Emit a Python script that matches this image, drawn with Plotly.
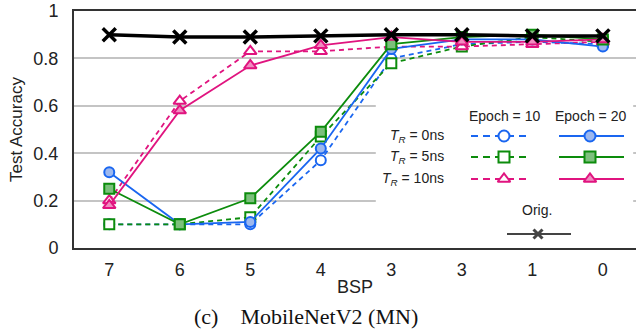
import plotly.graph_objects as go

# ---- data ----
bsp_labels = ["7", "6", "5", "4", "3", "3", "1", "0"]
orig = [0.90, 0.89, 0.89, 0.895, 0.90, 0.90, 0.895, 0.895]
tr0_e10 = [0.10, 0.10, 0.10, 0.37, 0.80, 0.86, 0.87, 0.86]
tr0_e20 = [0.32, 0.10, 0.11, 0.42, 0.84, 0.88, 0.88, 0.85]
tr5_e10 = [0.10, 0.10, 0.13, 0.47, 0.78, 0.85, 0.89, 0.87]
tr5_e20 = [0.25, 0.10, 0.21, 0.49, 0.86, 0.89, 0.90, 0.88]
tr10_e10 = [0.20, 0.62, 0.83, 0.83, 0.85, 0.85, 0.86, 0.87]
tr10_e20 = [0.18, 0.58, 0.77, 0.855, 0.89, 0.87, 0.87, 0.88]

BLUE = "#1a66f0"
GREEN = "#0c8c0c"
PINK = "#e0147f"
LBLUE = "#9db8ee"
LGREEN = "#7cc07c"
LPINK = "#f08cc0"

xs = list(range(len(bsp_labels)))
FONT = "Liberation Sans, Arial, sans-serif"

fig = go.Figure()

series = [
    (tr0_e10, BLUE, "white", "circle", "dash"),
    (tr5_e10, GREEN, "white", "square", "dash"),
    (tr10_e10, PINK, "white", "triangle-up", "dash"),
    (tr0_e20, BLUE, LBLUE, "circle", "solid"),
    (tr5_e20, GREEN, LGREEN, "square", "solid"),
    (tr10_e20, PINK, LPINK, "triangle-up", "solid"),
]
for ys, col, fill, sym, dash in series:
    fig.add_trace(go.Scatter(
        x=xs, y=ys, mode="lines+markers",
        line=dict(color=col, width=1.8, dash="5px,4px" if dash == "dash" else "solid"),
        marker=dict(symbol=sym, size=10 if sym != "triangle-up" else 11,
                    color=fill, line=dict(color=col, width=2)),
        showlegend=False, hoverinfo="skip"))

fig.add_trace(go.Scatter(
    x=xs, y=orig, mode="lines+markers",
    line=dict(color="black", width=3.5),
    marker=dict(symbol="x-thin", size=13, line=dict(color="black", width=3.5)),
    showlegend=False, hoverinfo="skip"))

# ---- custom legend (pixel coordinates on an overlay axis) ----
rows = [(136, BLUE, LBLUE, "circle", "<i>T</i><sub><i>R</i></sub> = 0ns"),
        (157, GREEN, LGREEN, "square", "<i>T</i><sub><i>R</i></sub> = 5ns"),
        (179, PINK, LPINK, "triangle-up", "<i>T</i><sub><i>R</i></sub> = 10ns")]
for yy, col, fill, sym, lab in rows:
    fig.add_trace(go.Scatter(x=[471, 530], y=[yy, yy], mode="lines", xaxis="x2", yaxis="y2",
                             line=dict(color=col, width=1.8, dash="7px,5px"),
                             showlegend=False, hoverinfo="skip"))
    fig.add_trace(go.Scatter(x=[504], y=[yy], mode="markers", xaxis="x2", yaxis="y2",
                             marker=dict(symbol=sym, size=11, color="white",
                                         line=dict(color=col, width=2)),
                             showlegend=False, hoverinfo="skip"))
    fig.add_trace(go.Scatter(x=[559, 624], y=[yy, yy], mode="lines", xaxis="x2", yaxis="y2",
                             line=dict(color=col, width=1.8),
                             showlegend=False, hoverinfo="skip"))
    fig.add_trace(go.Scatter(x=[590], y=[yy], mode="markers", xaxis="x2", yaxis="y2",
                             marker=dict(symbol=sym, size=11, color=fill,
                                         line=dict(color=col, width=2)),
                             showlegend=False, hoverinfo="skip"))
    fig.add_annotation(x=446, y=yy, xref="x2", yref="y2", text=lab, showarrow=False,
                       xanchor="right", yanchor="middle",
                       font=dict(family=FONT, size=14, color="#222"))

fig.add_trace(go.Scatter(x=[507, 571], y=[234, 234], mode="lines", xaxis="x2", yaxis="y2",
                         line=dict(color="#444", width=2),
                         showlegend=False, hoverinfo="skip"))
fig.add_trace(go.Scatter(x=[538], y=[234], mode="markers", xaxis="x2", yaxis="y2",
                         marker=dict(symbol="x-thin", size=9, line=dict(color="#444", width=3)),
                         showlegend=False, hoverinfo="skip"))
for tx, ty, t in [(504, 116, "Epoch = 10"), (590, 116, "Epoch = 20"), (537, 210, "Orig.")]:
    fig.add_annotation(x=tx, y=ty, xref="x2", yref="y2", text=t, showarrow=False,
                       xanchor="center", yanchor="middle",
                       font=dict(family=FONT, size=14, color="#222"))

# legend background (hides gridlines)
fig.add_shape(type="rect", xref="x", yref="y", x0=3.78, x1=7.43, y0=0.02, y1=0.63,
              fillcolor="white", line=dict(width=0), layer="between")

# caption
fig.add_annotation(x=0.412, y=-0.29, xref="paper", yref="paper",
                   text="(c)    MobileNetV2 (MN)", showarrow=False,
                   xanchor="center", yanchor="middle",
                   font=dict(family="Liberation Serif, Times New Roman, serif", size=22, color="#111"))

fig.update_layout(
    width=636, height=333,
    margin=dict(l=74, r=0, t=11, b=85),
    paper_bgcolor="white", plot_bgcolor="white",
    font=dict(family=FONT, size=18, color="#222"),
    xaxis=dict(range=[-0.5, 7.47], tickmode="array", tickvals=xs, ticktext=bsp_labels,
               showgrid=False, zeroline=False, showline=True, mirror=True,
               linecolor="#333", linewidth=2, ticks="", ticklen=0, automargin=False,
               ticklabelstandoff=4,
               title=dict(text="BSP", font=dict(size=18), standoff=2),
               tickfont=dict(size=18)),
    yaxis=dict(range=[0, 1.0], tickmode="array", tickvals=[0, 0.2, 0.4, 0.6, 0.8, 1.0],
               ticktext=["0", "0.2", "0.4", "0.6", "0.8", "1"],
               showgrid=True, gridcolor="#c4c4c4", gridwidth=1.5, zeroline=False,
               showline=True, linecolor="#333", linewidth=2, ticks="", automargin=False,
               ticklabelstandoff=10,
               title=dict(text="Test Accuracy", font=dict(size=17), standoff=6),
               tickfont=dict(size=18)),
    xaxis2=dict(range=[74, 636], overlaying="x", anchor="y2", visible=False,
                showgrid=False, zeroline=False, automargin=False),
    yaxis2=dict(range=[248, 11], overlaying="y", anchor="x2", visible=False,
                showgrid=False, zeroline=False, automargin=False),
)

fig.write_html("out.html", config={"displayModeBar": False},
               post_script="document.body.style.margin='0';document.body.style.overflow='hidden';")
